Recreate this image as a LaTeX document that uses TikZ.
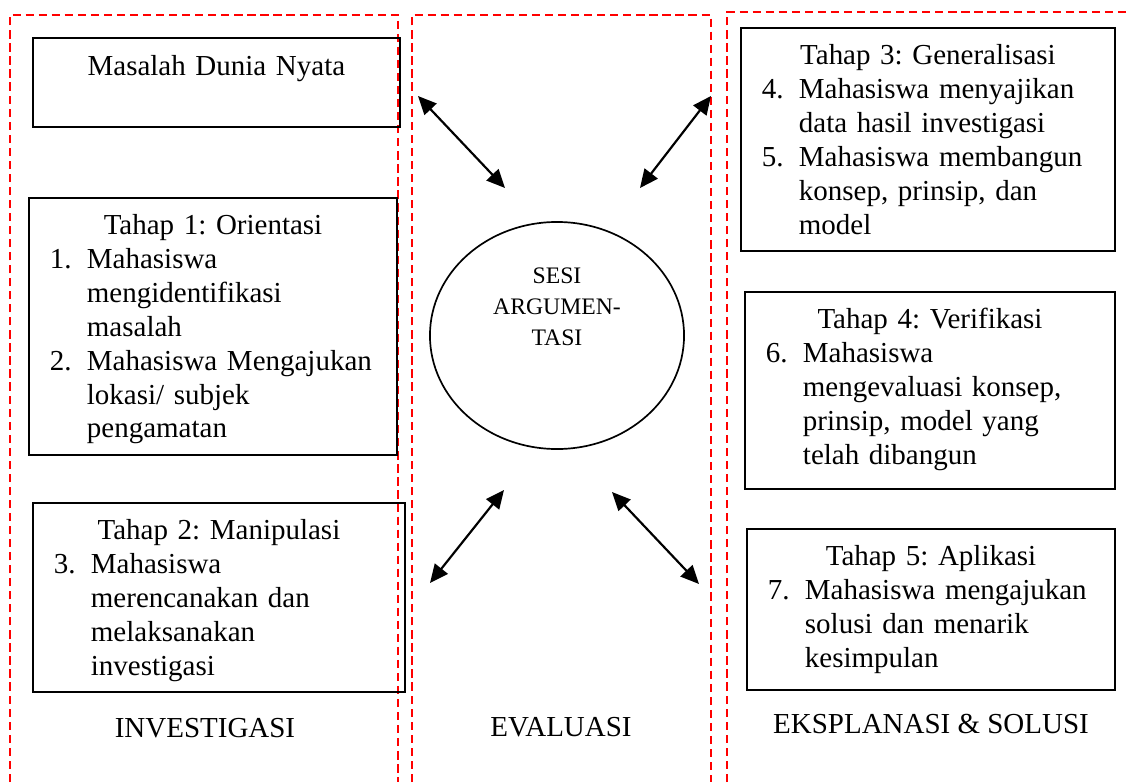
\documentclass[tikz,border=0pt]{standalone}
\usepackage{fontspec}
\setmainfont{Liberation Serif}
\usetikzlibrary{arrows.meta,shapes.geometric}
\frenchspacing
\newcommand{\tahaphead}[1]{{\centering #1\par}}
\newcommand{\tahapitem}[2]{\par\hangindent=24pt\hangafter=1\noindent\hspace*{8.7pt}\makebox[15.3pt][l]{#1}#2\par}

\begin{document}
\begin{tikzpicture}[x=0.414pt,y=-0.414pt,
  font=\fontsize{12}{14}\selectfont\frenchspacing,
  phaseframe/.style={red,line width=0.8pt,dash pattern=on 3.4pt off 2pt},
  stagebox/.style={draw,line width=0.8pt,inner sep=0pt,anchor=north west,text height=15.3pt},
  sesibox/.style={draw,ellipse,line width=0.7pt,minimum width=105.2pt,minimum height=94pt},
  sesitext/.style={align=center,inner sep=0pt,font=\fontsize{9.8}{12.8}\selectfont},
  dualarrow/.style={line width=0.9pt,{Triangle[length=7.6pt,width=6.8pt]}-{Triangle[length=7.6pt,width=6.8pt]}},
  colname/.style={anchor=base,inner sep=0pt}]
\useasboundingbox (0,0) rectangle (1129,782);
\draw[phaseframe] (10,782) -- (10,15) -- (398,15) -- (398,782);
\draw[phaseframe] (412,782) -- (412,15) -- (711,15) -- (711,782);
\draw[phaseframe] (727,782) -- (727,12) -- (1129,12);
\node[stagebox,text width=151.9pt,text height=15.7pt,text depth=21.1pt] (masalah) at (32,37) {\tahaphead{Masalah Dunia Nyata}};
\node[stagebox,text width=152.4pt,text depth=91.1pt] (orientasi) at (28,197) {\tahaphead{Tahap 1: Orientasi}
\tahapitem{1.}{Mahasiswa\newline mengidentifikasi\newline masalah}
\tahapitem{2.}{Mahasiswa Mengajukan\newline lokasi/ subjek\newline pengamatan}};
\node[stagebox,text width=154pt,text depth=62.9pt] (manipulasi) at (32,502) {\tahaphead{Tahap 2: Manipulasi}
\tahapitem{3.}{Mahasiswa\newline merencanakan dan\newline melaksanakan\newline investigasi}};
\node[stagebox,text width=154.8pt,text depth=77pt] (generalisasi) at (740,27) {\tahaphead{Tahap 3: Generalisasi}
\tahapitem{4.}{Mahasiswa menyajikan\newline data hasil investigasi}
\tahapitem{5.}{Mahasiswa membangun\newline konsep, prinsip, dan\newline model}};
\node[stagebox,text width=153.2pt,text depth=66.2pt] (verifikasi) at (744,291) {\tahaphead{Tahap 4: Verifikasi}
\tahapitem{6.}{Mahasiswa\newline mengevaluasi konsep,\newline prinsip, model yang\newline telah dibangun}};
\node[stagebox,text width=152.4pt,text depth=51.3pt] (aplikasi) at (746,528) {\tahaphead{Tahap 5: Aplikasi}
\tahapitem{7.}{Mahasiswa mengajukan\newline solusi dan menarik\newline kesimpulan}};
\node[sesibox] (sesi) at (557,335.5) {};
\node[sesitext] (sesilabel) at (557,306.5) {SESI\\ARGUMEN-\\TASI};
\coordinate (masalahtip) at (418,96);
\coordinate (sesinw) at (505,188);
\coordinate (generaltip) at (711,96);
\coordinate (sesine) at (640,188);
\coordinate (sesisw) at (504,490);
\coordinate (manipulasitip) at (430,583);
\coordinate (sesise) at (612,492);
\coordinate (aplikasitip) at (699,584);
\draw[dualarrow] (masalahtip) -- (sesinw);
\draw[dualarrow] (generaltip) -- (sesine);
\draw[dualarrow] (sesisw) -- (manipulasitip);
\draw[dualarrow] (sesise) -- (aplikasitip);
\node[colname] (investigasi) at (205,737) {INVESTIGASI};
\node[colname] (evaluasi) at (561,736) {EVALUASI};
\node[colname] (eksplanasi) at (931,733) {EKSPLANASI \& SOLUSI};
\end{tikzpicture}
\end{document}
